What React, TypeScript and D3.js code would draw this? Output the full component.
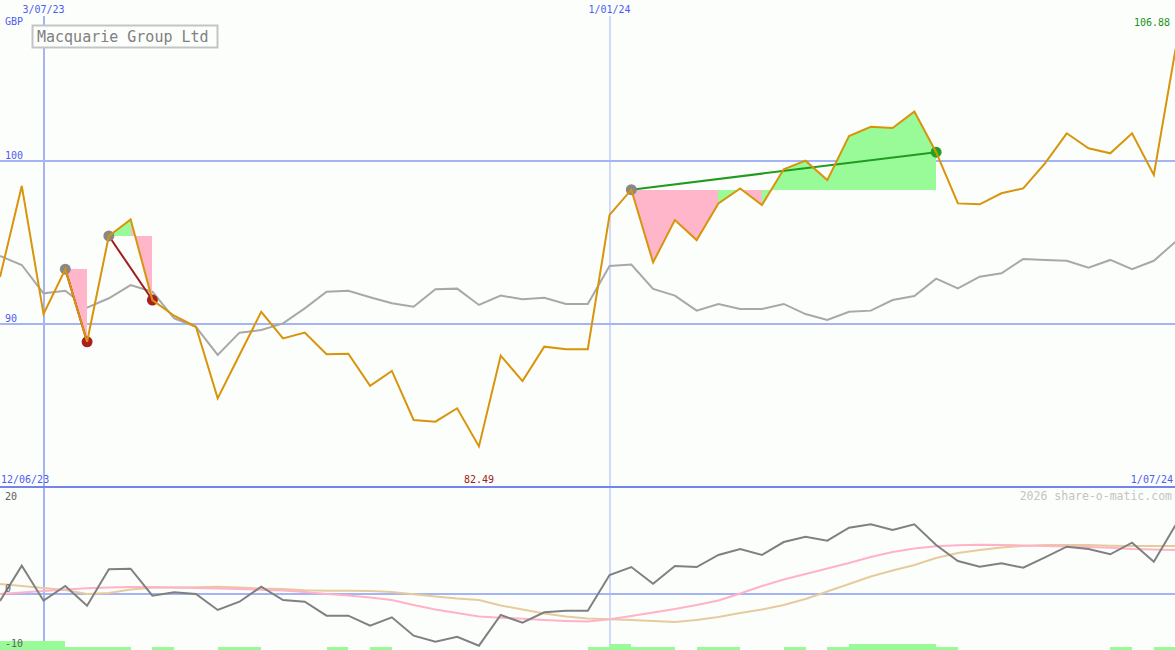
import React from 'react';
import * as d3 from 'd3';

// weekly closes, GBP
const price = [
  92.88, 98.47, 90.61, 93.36, 88.91, 95.4, 96.42, 91.47, 90.51, 89.83,
  85.44, 88.1, 90.75, 89.12, 89.47, 88.14, 88.18, 86.21, 87.12, 84.11,
  84.01, 84.83, 82.49, 88.06, 86.5, 88.61, 88.45, 88.45, 96.69, 98.24,
  93.78, 96.38, 95.15, 97.4, 98.32, 97.3, 99.49, 100.02, 98.83, 101.53,
  102.1, 102.02, 103.03, 100.54, 97.4, 97.34, 98.02, 98.32, 99.86, 101.7,
  100.78, 100.47, 101.7, 99.14, 106.88,
];

// relative index, drawn on the same axis
const benchmark = [
  94.17, 93.62, 91.88, 92.04, 91.0, 91.58, 92.39, 91.98, 90.35, 89.83,
  88.1, 89.47, 89.63, 90.04, 90.96, 91.98, 92.04, 91.64, 91.27, 91.06,
  92.13, 92.17, 91.17, 91.74, 91.52, 91.61, 91.23, 91.23, 93.56, 93.65,
  92.15, 91.74, 90.82, 91.23, 90.92, 90.92, 91.23, 90.61, 90.25, 90.75,
  90.82, 91.47, 91.72, 92.78, 92.19, 92.9, 93.11, 93.99, 93.93, 93.88,
  93.45, 93.93, 93.37, 93.88, 95.05,
];

// lower panel: oscillator and its two averages
const oscillator = [
  -1.41, 5.72, -1.35, 1.62, -2.36, 4.99, 5.11, -0.34, 0.34, 0,
  -3.23, -1.56, 1.47, -1.21, -1.56, -4.38, -4.38, -6.4, -4.71, -8.42,
  -9.64, -8.63, -10.44, -4.24, -5.8, -3.7, -3.37, -3.37, 3.84, 5.45,
  2.08, 5.66, 5.45, 7.88, 9.09, 7.88, 10.5, 11.58, 10.77, 13.39,
  14.08, 12.93, 14.08, 9.9, 6.67, 5.52, 6.2, 5.31, 7.41, 9.56,
  9.09, 8.02, 10.36, 6.53, 13.94,
];
const fastAvg = [
  0, 0.3, 0.61, 0.91, 1.15, 1.31, 1.41, 1.41, 1.31, 1.21,
  1.11, 1.01, 0.87, 0.71, 0.4, 0, -0.3, -0.71, -1.21, -2.22,
  -3.13, -3.84, -4.55, -4.81, -4.99, -5.25, -5.45, -5.56, -5.11, -4.44,
  -3.74, -3.03, -2.22, -1.31, 0.1, 1.62, 2.93, 4.04, 5.15, 6.26,
  7.47, 8.48, 9.19, 9.64, 9.86, 9.96, 9.9, 9.8, 9.7, 9.6,
  9.49, 9.33, 9.09, 8.99, 8.89,
];
const slowAvg = [
  2.02, 1.62, 1.21, 0.81, 0, 0.2, 0.91, 1.27, 1.31, 1.35,
  1.45, 1.31, 1.11, 1.01, 0.75, 0.67, 0.67, 0.61, 0.4, -0.06,
  -0.51, -0.91, -1.21, -2.32, -3.13, -3.94, -4.55, -4.95, -5.11, -5.25,
  -5.45, -5.66, -5.25, -4.65, -3.84, -3.13, -2.22, -1.01, 0.51, 2.02,
  3.54, 4.75, 5.86, 7.27, 8.28, 8.89, 9.39, 9.7, 9.9, 9.9,
  9.9, 9.76, 9.7, 9.7, 9.7,
];

// signal strength per week (0..3)
const signals = [
  3, 3, 3, 1, 1, 1, 0, 1, 0, 0,
  1, 1, 0, 0, 0, 1, 0, 1, 0, 0,
  0, 0, 0, 0, 0, 0, 0, 1, 2, 1,
  1, 0, 1, 1, 0, 0, 1, 0, 1, 2,
  2, 2, 2, 1, 0, 0, 0, 0, 0, 0,
  0, 1, 0, 1,
];

// trades: [entry week, exit week]
const trades: [number, number][] = [[3, 4], [5, 7], [29, 43]];

const priceTicks = [100, 90];
const markerDates = [new Date(2023, 6, 3), new Date(2024, 0, 1)];
const markerLabels = ['3/07/23', '1/01/24'];

const W = 1175;
const H = 650;
const FONT = '"DejaVu Sans Mono", "Liberation Mono", monospace';
const BLUE = '#4c5cf0';
const GRID = '#a4b4f4';

export default function App() {
  const dates = d3.timeMonday.range(new Date(2023, 5, 19), new Date(2024, 6, 2));
  const x = d3.scaleTime().domain([dates[0], dates[dates.length - 1]]).range([0, 1175.6]);
  const xi = (i: number) => x(dates[i]);
  const y = d3.scaleLinear().domain([80, 110]).range([487, -2]);
  const yo = d3.scaleLinear().domain([-10, 20]).range([643.5, 495]);
  const yb = d3.scaleLinear().domain([0, 3]).range([650, 641]);

  const line = d3.line<number>().x((_, i) => xi(i)).y(d => y(d));
  const oline = d3.line<number>().x((_, i) => xi(i)).y(d => yo(d));

  const maxI = d3.maxIndex(price);
  const minI = d3.minIndex(price);

  const fills: { d: string; color: string }[] = [];
  trades.forEach(([a, b]) => {
    const level = price[a];
    for (let k = a; k < b; k++) {
      const pts: [number, number][] = [
        [xi(k), y(level)], [xi(k), y(price[k])],
        [xi(k + 1), y(price[k + 1])], [xi(k + 1), y(level)],
      ];
      fills.push({
        d: 'M' + pts.map(p => p.join(',')).join('L') + 'Z',
        color: price[k + 1] > level ? '#98fb98' : '#ffb6cb',
      });
    }
  });

  return (
    <div>
      <style>{`body{margin:0}`}</style>
      <svg width={W} height={H} style={{ display: 'block', background: '#fcfefc' }} fontFamily={FONT}>
        {/* grid */}
        {priceTicks.map(t => (
          <g key={t}>
            <line x1={0} x2={W} y1={y(t)} y2={y(t)} stroke={GRID} strokeWidth={2} />
            <text x={5} y={y(t) - 2} fontSize={10} fill={BLUE}>{t}</text>
          </g>
        ))}
        <line x1={0} x2={W} y1={yo(0)} y2={yo(0)} stroke={GRID} strokeWidth={2} />
        {markerDates.map((d, i) => (
          <g key={i}>
            <line x1={Math.round(x(d))} x2={Math.round(x(d))} y1={16} y2={H}
              stroke={GRID} strokeWidth={i === 0 ? 2 : 1} />
            <text x={x(d)} y={12.5} fontSize={10} fill={BLUE} textAnchor="middle">{markerLabels[i]}</text>
          </g>
        ))}
        <line x1={0} x2={W} y1={487} y2={487} stroke="#7484ec" strokeWidth={2} />

        {/* signal bars */}
        {signals.map((s, j) => s > 0 && (
          <rect key={j} x={xi(j)} width={xi(j + 1) - xi(j)} y={yb(s)} height={650 - yb(s)}
            fill="#98fb98" shapeRendering="crispEdges" />
        ))}

        {/* benchmark */}
        <path d={line(benchmark) ?? ''} fill="none" stroke="#a8a8a8" strokeWidth={2} />

        {/* trade fills */}
        {fills.map((f, i) => <path key={i} d={f.d} fill={f.color} shapeRendering="crispEdges" />)}
        {trades.map(([a, b], i) => (
          <line key={i} x1={xi(a)} y1={y(price[a])} x2={xi(b)} y2={y(price[b])}
            stroke={price[b] < price[a] ? '#a01c1c' : '#229a22'} strokeWidth={2} />
        ))}
        {trades.map(([a, b], i) => (
          <g key={i}>
            <circle cx={xi(a)} cy={y(price[a])} r={5.5} fill="#888888" />
            <circle cx={xi(b)} cy={y(price[b])} r={5.5} fill={price[b] < price[a] ? '#a82020' : '#22a022'} />
          </g>
        ))}

        {/* price */}
        <path d={line(price) ?? ''} fill="none" stroke="#d8940a" strokeWidth={2} />

        {/* lower panel */}
        <path d={oline(slowAvg) ?? ''} fill="none" stroke="#e6cc9c" strokeWidth={2} />
        <path d={oline(fastAvg) ?? ''} fill="none" stroke="#ffb2c8" strokeWidth={2} />
        <path d={oline(oscillator) ?? ''} fill="none" stroke="#808080" strokeWidth={2} />

        {/* labels */}
        <rect x={32.5} y={25.5} width={185} height={22} fill="#fcfefc" stroke="#c4c4c4" strokeWidth={2} />
        <text x={37} y={41.5} fontSize={15} fill="#808080">Macquarie Group Ltd</text>
        <text x={5} y={25} fontSize={10} fill={BLUE}>GBP</text>
        <text x={1170} y={26} fontSize={10} fill="#209020" textAnchor="end">{price[maxI].toFixed(2)}</text>
        <text x={xi(minI)} y={482.5} fontSize={10} fill="#a02020" textAnchor="middle">{price[minI].toFixed(2)}</text>
        <text x={1} y={482.5} fontSize={10} fill={BLUE}>12/06/23</text>
        <text x={1173} y={482.5} fontSize={10} fill={BLUE} textAnchor="end">1/07/24</text>
        <text x={1172} y={500} fontSize={11.5} fill="#c4c4c4" textAnchor="end">2026 share-o-matic.com</text>
        <text x={5} y={499.5} fontSize={10} fill="#606060">20</text>
        <text x={5} y={592} fontSize={10} fill="#606060">0</text>
        <text x={5} y={647} fontSize={10} fill="#606060">-10</text>
      </svg>
    </div>
  );
}
